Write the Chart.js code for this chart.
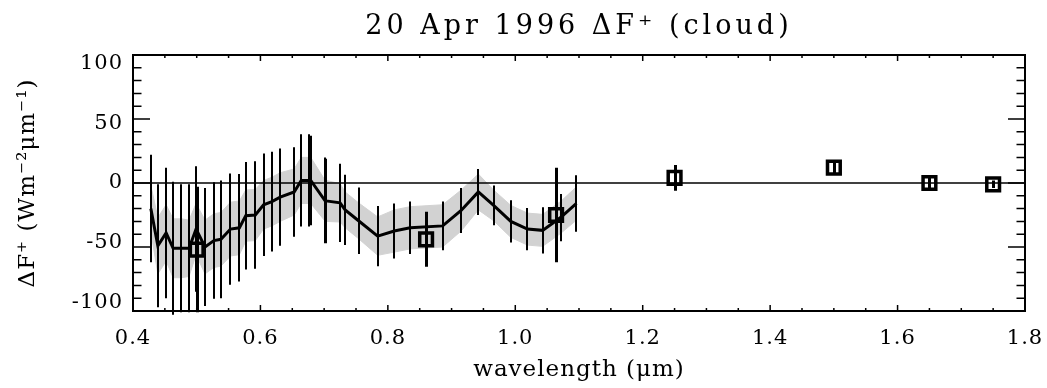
<!DOCTYPE html>
<html>
<head>
<meta charset="utf-8">
<script src="https://cdn.jsdelivr.net/npm/chart.js@4/dist/chart.umd.min.js"></script>
<style>
  html, body { margin: 0; padding: 0; background: #fff; }
</style>
</head>
<body>
<canvas id="chart" width="1047" height="388"></canvas>
<script>
// 20 Apr 1996 spectral cloud forcing.

// spectrometer samples (solid line + thin error bars + grey band)
const wavelength = [0.428, 0.439, 0.452, 0.463, 0.476, 0.488, 0.499, 0.513, 0.527, 0.538,
  0.553, 0.567, 0.577, 0.592, 0.605, 0.618, 0.631, 0.653, 0.664, 0.677,
  0.679, 0.701, 0.703, 0.725, 0.733, 0.754, 0.784, 0.810, 0.835, 0.886,
  0.915, 0.942, 0.966, 0.993, 1.019, 1.043, 1.071, 1.096];
const deltaF = [-20, -49, -39, -51, -51, -51, -36, -50, -45, -44,
  -36, -35, -25.5, -25, -17, -14.5, -11, -7, 2, 2,
  2, -13.5, -14, -15.5, -21, -29.5, -41.5, -37.5, -35, -33.5,
  -21.5, -7, -17.5, -30, -36, -37, -27, -16];
const deltaFErr = [42, 48, 51, 52, 50, 50, 49, 46, 45.5, 46,
  43.5, 42, 42, 42, 40, 39, 38, 35, 36, 36,
  35, 33.5, 33, 30.5, 27.5, 26, 23.5, 21.5, 20.5, 19,
  17.5, 18, 15.5, 16.5, 16.5, 18, 18.5, 22];
const bandHalf = [18, 22, 22, 23, 23, 22, 20, 21, 21, 21,
  21, 21, 20, 20, 19, 19, 19, 18, 18, 18,
  18, 16, 16, 15, 14, 14, 15, 16.5, 16.5, 16.5,
  16, 14, 12, 12.5, 12.5, 12.5, 12.5, 13];

// radiometer channels (squares)
const chanWavelength = [0.5, 0.86, 1.064, 1.25, 1.5, 1.65, 1.75];
const chanDeltaF = [-52, -44, -25, 4, 12, 0, -1];
const chanErr = [49, 21.5, 37, 10, 5, 6, 3];

// axes
const xTickValues = [0.4, 0.6, 0.8, 1.0, 1.2, 1.4, 1.6, 1.8];
const yTickValues = [-100, -50, 0, 50, 100];
const xMinorStep = 0.05;
const yMinorStep = 10;

const SERIF = '"DejaVu Serif", "Liberation Serif", serif';
const TITLE_SPACING = '4px';
const AXIS_SPACING = '1px';

const pts = (xs, ys) => xs.map((x, i) => ({ x, y: ys[i] }));

// Frame with inward ticks, zero line and error bars, IDL style.
const idlFrame = {
  id: 'idlFrame',
  beforeDraw(chart) {
    // chart title is drawn before the datasets, axis text after them
    chart.ctx.letterSpacing = TITLE_SPACING;
  },
  beforeDatasetsDraw(chart) {
    chart.ctx.letterSpacing = AXIS_SPACING;
  },
  afterDatasetDraw(chart, args) {
    if (args.index !== 1) return; // right after the grey band
    const { ctx, chartArea: a, scales: { x, y } } = chart;
    ctx.save();
    ctx.strokeStyle = '#000';
    ctx.lineWidth = 1.5;
    const y0 = y.getPixelForValue(0);
    ctx.beginPath();
    ctx.moveTo(a.left, y0);
    ctx.lineTo(a.right, y0);
    ctx.stroke();

    ctx.lineWidth = 2;
    ctx.beginPath();
    wavelength.forEach((w, i) => {
      const px = Math.round(x.getPixelForValue(w));
      ctx.moveTo(px, y.getPixelForValue(deltaF[i] + deltaFErr[i]));
      ctx.lineTo(px, y.getPixelForValue(deltaF[i] - deltaFErr[i]));
    });
    ctx.stroke();
    ctx.restore();
  },
  afterDraw(chart) {
    const { ctx, chartArea: a, scales: { x, y } } = chart;
    ctx.save();
    ctx.strokeStyle = '#000';

    // channel error bars
    ctx.lineWidth = 3;
    ctx.beginPath();
    chanWavelength.forEach((w, i) => {
      const px = Math.round(x.getPixelForValue(w)) + 0.5;
      ctx.moveTo(px, y.getPixelForValue(chanDeltaF[i] + chanErr[i]));
      ctx.lineTo(px, y.getPixelForValue(chanDeltaF[i] - chanErr[i]));
    });
    ctx.stroke();

    // box
    ctx.lineWidth = 2;
    ctx.strokeRect(a.left, a.top, a.right - a.left, a.bottom - a.top);

    // ticks
    ctx.lineWidth = 1.5;
    ctx.beginPath();
    const ny = Math.round((y.max - y.min) / yMinorStep);
    for (let k = 0; k <= ny; k++) {
      const v = y.min + k * yMinorStep;
      const py = y.getPixelForValue(v);
      const len = yTickValues.includes(v) ? 17 : 8.5;
      ctx.moveTo(a.left, py); ctx.lineTo(a.left + len, py);
      ctx.moveTo(a.right, py); ctx.lineTo(a.right - len, py);
    }
    const nx = Math.round((x.max - x.min) / xMinorStep);
    for (let k = 0; k <= nx; k++) {
      const v = x.min + k * xMinorStep;
      const px = x.getPixelForValue(v);
      const len = k % 4 === 0 ? 6 : 3;
      ctx.moveTo(px, a.bottom); ctx.lineTo(px, a.bottom - len);
      ctx.moveTo(px, a.top); ctx.lineTo(px, a.top + len);
    }
    ctx.stroke();
    ctx.restore();
  },
};

const axisText = { family: SERIF, size: 21 };

const chart = new Chart(document.getElementById('chart'), {
  type: 'line',
  data: {
    datasets: [
      {
        label: 'band high',
        data: pts(wavelength, deltaF.map((v, i) => v + bandHalf[i])),
        borderColor: '#d2d2d2',
        borderWidth: 1,
        backgroundColor: '#d2d2d2',
        pointRadius: 0,
        fill: '+1',
        order: 4,
      },
      {
        label: 'band low',
        data: pts(wavelength, deltaF.map((v, i) => v - bandHalf[i])),
        borderColor: '#d2d2d2',
        borderWidth: 1,
        pointRadius: 0,
        fill: false,
        order: 3,
      },
      {
        label: 'ΔF⁺',
        data: pts(wavelength, deltaF),
        borderColor: '#000',
        borderWidth: 3,
        pointRadius: 0,
        fill: false,
        tension: 0,
        order: 2,
      },
      {
        label: 'channels',
        data: pts(chanWavelength, chanDeltaF),
        showLine: false,
        pointStyle: 'rect',
        pointRadius: 9,
        pointBorderWidth: 3.5,
        pointBorderColor: '#000',
        pointBackgroundColor: 'rgba(0,0,0,0)',
        order: 1,
      },
    ],
  },
  options: {
    responsive: false,
    animation: false,
    devicePixelRatio: 1,
    layout: { padding: { left: 0, right: 22, top: 0, bottom: 0 } },
    plugins: {
      legend: { display: false },
      tooltip: { enabled: false },
      title: {
        display: true,
        fullSize: false,
        text: '20 Apr 1996 ΔF⁺ (cloud)',
        color: '#000',
        font: { family: SERIF, size: 27, weight: 'normal' },
        padding: { top: 11, bottom: 11.6 },
      },
    },
    scales: {
      x: {
        type: 'linear',
        min: 0.4,
        max: 1.8,
        grid: { display: false, drawTicks: false, z: 1 },
        border: { display: false },
        afterBuildTicks: (s) => { s.ticks = xTickValues.map((v) => ({ value: v })); },
        afterFit: (s) => { s.height = 77; s.paddingLeft = 0; s.paddingRight = 0; },
        ticks: {
          z: 1,
          color: '#000',
          font: axisText,
          padding: 15,
          maxRotation: 0,
          autoSkip: false,
          callback: (v) => v.toFixed(1),
        },
        title: {
          display: true,
          text: 'wavelength (μm)',
          color: '#000',
          font: { family: SERIF, size: 23 },
          padding: { top: 0, bottom: 4 },
        },
      },
      // data scale, drawn only through the frame plugin
      y: {
        min: -100,
        max: 100,
        display: false,
      },
      // label scale: the original's tick labels sit slightly inside the ends
      yLabels: {
        position: 'left',
        min: -107.5,
        max: 107.5,
        grid: { display: false, drawTicks: false, z: 1 },
        border: { display: false },
        afterBuildTicks: (s) => { s.ticks = yTickValues.map((v) => ({ value: v })); },
        afterFit: (s) => { s.width = 133; s.paddingTop = 0; s.paddingBottom = 0; },
        ticks: {
          z: 1,
          color: '#000',
          font: axisText,
          padding: 10,
        },
        title: {
          display: true,
          text: 'ΔF⁺ (Wm⁻²μm⁻¹)',
          color: '#000',
          font: { family: SERIF, size: 23 },
          padding: { top: 14, bottom: 0 },
        },
      },
    },
  },
  plugins: [idlFrame],
});
</script>
</body>
</html>
